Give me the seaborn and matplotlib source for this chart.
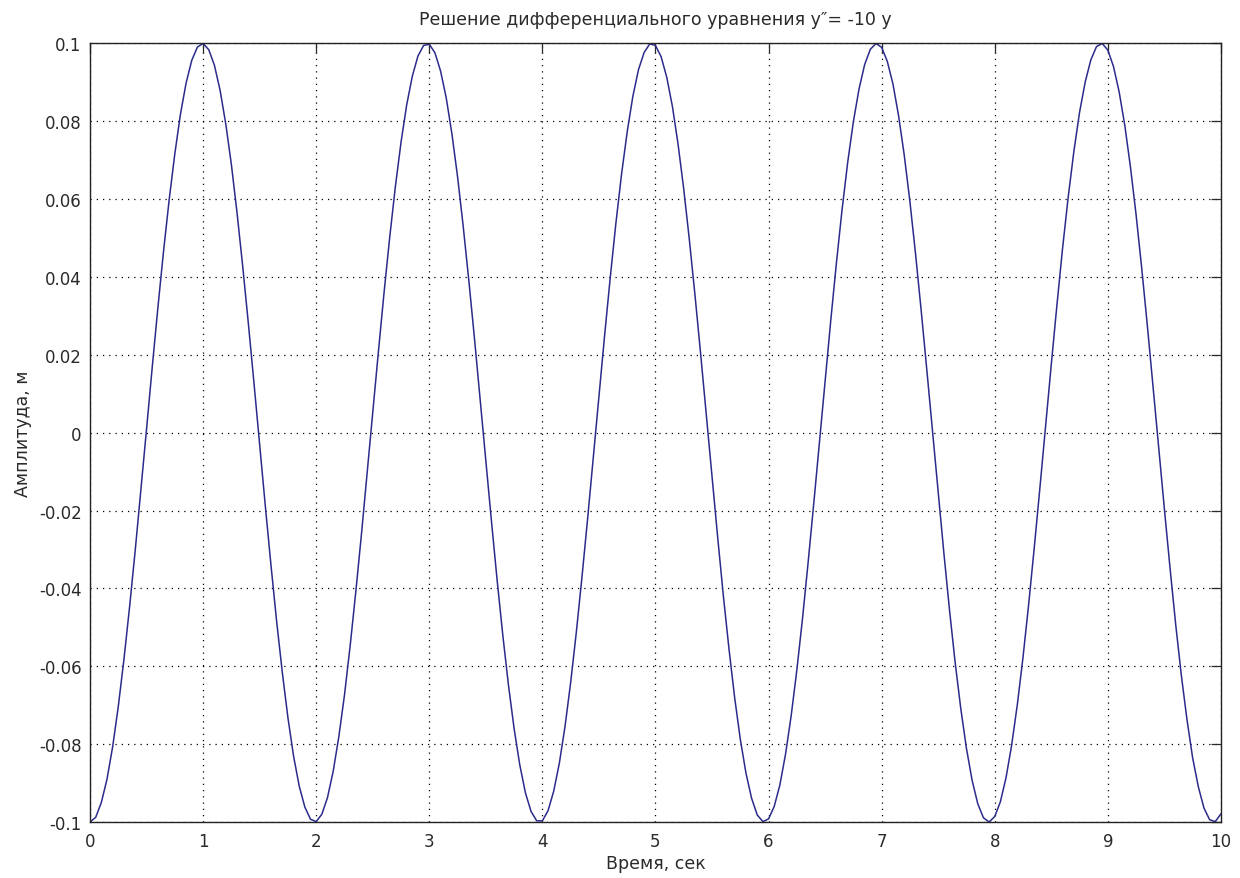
import matplotlib
matplotlib.use('Agg')
import matplotlib.pyplot as plt
import seaborn as sns
import pandas as pd

# Время, сек (шаг 0.05)
time_s = [round(0.05 * k, 2) for k in range(201)]

# Амплитуда, м
amplitude = [
    -0.1000, -0.0988, -0.0950, -0.0890, -0.0807, -0.0703, -0.0582, -0.0447, -0.0301, -0.0147,
    0.0010, 0.0168, 0.0321, 0.0466, 0.0599, 0.0717, 0.0819, 0.0899, 0.0957, 0.0991,
    0.1000, 0.0984, 0.0944, 0.0880, 0.0794, 0.0689, 0.0565, 0.0428, 0.0281, 0.0127,
    -0.0031, -0.0188, -0.0340, -0.0484, -0.0615, -0.0732, -0.0831, -0.0908, -0.0962, -0.0993,
    -0.0999, -0.0980, -0.0937, -0.0870, -0.0781, -0.0674, -0.0548, -0.0409, -0.0261, -0.0106,
    0.0052, 0.0208, 0.0360, 0.0502, 0.0632, 0.0746, 0.0842, 0.0916, 0.0968, 0.0995,
    0.0998, 0.0976, 0.0929, 0.0860, 0.0768, 0.0658, 0.0530, 0.0390, 0.0241, 0.0085,
    -0.0072, -0.0228, -0.0379, -0.0520, -0.0648, -0.0760, -0.0853, -0.0925, -0.0973, -0.0997,
    -0.0997, -0.0971, -0.0921, -0.0849, -0.0755, -0.0642, -0.0513, -0.0371, -0.0221, -0.0065,
    0.0093, 0.0249, 0.0398, 0.0538, 0.0664, 0.0773, 0.0864, 0.0933, 0.0977, 0.0999,
    0.0995, 0.0966, 0.0913, 0.0838, 0.0741, 0.0626, 0.0495, 0.0352, 0.0201, 0.0044,
    -0.0113, -0.0268, -0.0418, -0.0555, -0.0680, -0.0787, -0.0874, -0.0939, -0.0982, -0.0999,
    -0.0992, -0.0960, -0.0905, -0.0826, -0.0727, -0.0610, -0.0478, -0.0333, -0.0181, -0.0024,
    0.0134, 0.0288, 0.0436, 0.0573, 0.0695, 0.0799, 0.0883, 0.0946, 0.0985, 0.1000,
    0.0990, 0.0954, 0.0896, 0.0814, 0.0713, 0.0594, 0.0459, 0.0313, 0.0160, 0.0003,
    -0.0154, -0.0308, -0.0455, -0.0590, -0.0709, -0.0811, -0.0893, -0.0953, -0.0989, -0.1000,
    -0.0986, -0.0948, -0.0886, -0.0802, -0.0698, -0.0577, -0.0441, -0.0294, -0.0140, 0.0018,
    0.0175, 0.0328, 0.0474, 0.0606, 0.0723, 0.0823, 0.0901, 0.0958, 0.0992, 0.1000,
    0.0983, 0.0941, 0.0876, 0.0790, 0.0683, 0.0560, 0.0422, 0.0274, 0.0119, -0.0038,
    -0.0195, -0.0347, -0.0492, -0.0623, -0.0737, -0.0835, -0.0909, -0.0964, -0.0994, -0.0999,
    -0.0979,
]

x_ticks = list(range(0, 11))
y_ticks = [-0.1, -0.08, -0.06, -0.04, -0.02, 0, 0.02, 0.04, 0.06, 0.08, 0.1]
y_labels = ['-0.1', '-0.08', '-0.06', '-0.04', '-0.02', '0', '0.02', '0.04', '0.06', '0.08', '0.1']

df = pd.DataFrame({'t': time_s, 'y': amplitude})

sns.set_style('white')
plt.rcParams['font.family'] = ['DejaVu Sans']

fig = plt.figure(figsize=(12.4, 8.79), dpi=100)
ax = fig.add_axes([0.0726, 0.0637, 0.912, 0.8857])

sns.lineplot(data=df, x='t', y='y', ax=ax, color='#2b2b8c', linewidth=1.1)

ax.set_xlim(0, 10)
ax.set_ylim(-0.1, 0.1)
ax.set_xticks(x_ticks)
ax.set_yticks(y_ticks)
ax.set_yticklabels(y_labels)
ax.grid(True, color='black', linestyle=(0, (1, 4)), linewidth=0.9)
ax.tick_params(direction='in', length=7, width=0.9, top=True, right=True,
               labelsize=12, colors='#2a2a2a')
ax.tick_params(axis='x', pad=7)
ax.tick_params(axis='y', pad=6)
for s in ax.spines.values():
    s.set_color('#222222')
    s.set_linewidth(1.0)

ax.set_title('Решение дифференциального уравнения y\u2033= -10 y', fontsize=12.5,
             pad=14, color='#2a2a2a')
ax.set_xlabel('Время, сек', fontsize=12.5, labelpad=3, color='#2a2a2a')
ax.set_ylabel('Амплитуда, м', fontsize=12.5, labelpad=5, color='#2a2a2a')

fig.savefig('out.png', dpi=100)
